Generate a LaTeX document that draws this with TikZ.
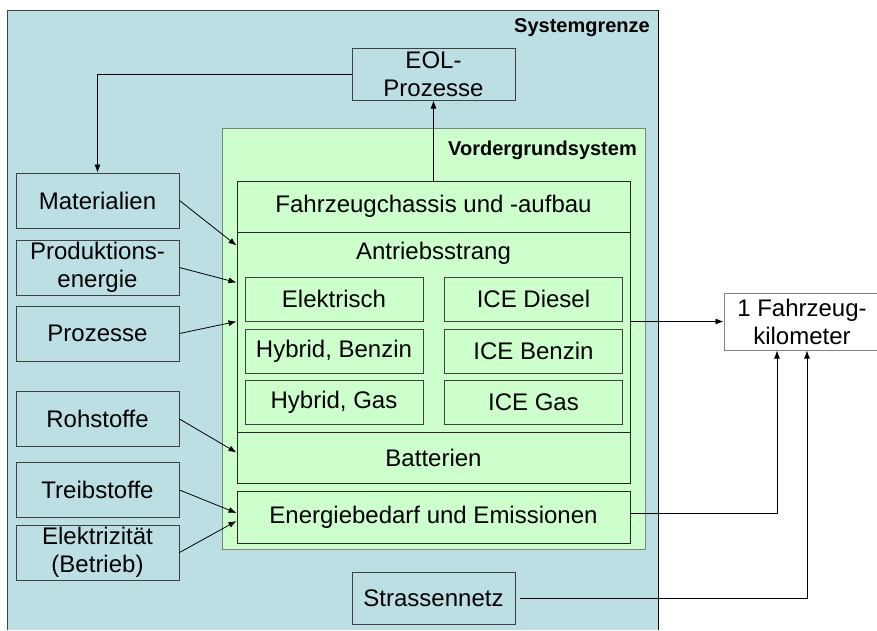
\documentclass[tikz,border=0pt]{standalone}
\usepackage{fontspec}
\setmainfont{Liberation Sans}
\usetikzlibrary{arrows.meta,positioning}

\definecolor{sysblue}{HTML}{BBDFE2}
\definecolor{fggreen}{HTML}{CCFFCC}
\definecolor{boxgray}{HTML}{404040}

\tikzset{
  box/.style={draw=boxgray, line width=1pt, minimum width=163pt, minimum height=55pt,
    inner sep=0pt, align=center, font=\fontsize{24}{28}\selectfont},
  block/.style={draw=black!85, line width=1pt, minimum width=393pt, inner sep=0pt,
    align=center, font=\fontsize{24}{28}\selectfont},
  subbox/.style={draw=boxgray, line width=1pt, minimum width=178pt, minimum height=44pt,
    inner sep=0pt, font=\fontsize{24}{28}\selectfont},
  flow/.style={-{Latex[length=8pt,width=6pt]}, line width=0.8pt, black},
  title/.style={font=\bfseries\fontsize{20}{24}\selectfont, anchor=east, inner sep=0pt}
}

\begin{document}
\begin{tikzpicture}[x=1pt,y=-1pt]
\useasboundingbox (0,0) rectangle (877,630);

% system boundary
\fill[sysblue] (7,10) rectangle (658,630);
\draw[boxgray, line width=1pt] (7,630) -- (7,10) -- (658,10);
\draw[black, line width=1pt] (658,10) -- (658,630);
\node[title] (sysl) at (650,28) {Systemgrenze};

% foreground system
\node[draw=gray, fill=fggreen, line width=1pt, minimum width=423pt, minimum height=421pt,
  inner sep=0pt] (vg) at (433.5,338.5) {};
\node[title] (vgl) at (637,150) {Vordergrundsystem};

% blocks inside
\node[block, minimum height=51pt] (chassis) at (433.5,206.5) {Fahrzeugchassis und -aufbau};
\node[block, minimum height=200pt] (ant) at (433.5,332) {};
\node[below=10pt of ant.north, inner sep=0pt, font=\fontsize{24}{28}\selectfont] (antl) {Antriebsstrang};
\node[block, minimum height=51pt] (bat) at (433.5,457.5) {Batterien};
\node[block, minimum height=52pt] (energie) at (433.5,517) {Energiebedarf und Emissionen};

% drive types
\node[subbox] (elek) at (334,299) {Elektrisch};
\node[subbox] (diesel) at (533.5,299) {ICE Diesel};
\node[subbox] (hybb) at (334,351) {Hybrid, Benzin};
\node[subbox] (iceb) at (533.5,351) {ICE Benzin};
\node[subbox] (hybg) at (334,402.5) {Hybrid, Gas};
\node[subbox] (iceg) at (533.5,402.5) {ICE Gas};

% inputs left
\node[box] (mat) at (97.5,200.5) {Materialien};
\node[box] (prod) at (97.5,267.5) {Produktions-\\energie};
\node[box] (proz) at (97.5,333.5) {Prozesse};
\node[box] (roh) at (97.5,419) {Rohstoffe};
\node[box] (treib) at (97.5,490) {Treibstoffe};
\node[box] (strom) at (97.5,552.5) {Elektrizität\\(Betrieb)};

% top and bottom boxes
\node[box, minimum height=52pt] (eol) at (433.5,74) {EOL-\\Prozesse};
\node[box, minimum height=52pt] (str) at (433.5,598) {Strassennetz};

% functional unit
\node[draw=gray, fill=white, line width=1pt, minimum width=156pt, minimum height=57pt,
  inner sep=0pt, align=center, font=\fontsize{24}{28}\selectfont] (km) at (802,321.5)
  {1 Fahrzeug-\\kilometer};

% arrows into foreground system
\draw[flow] (mat.east) -- ([yshift=-14pt]ant.north west);
\draw[flow] (prod.east) -- ([yshift=-51pt]ant.north west);
\draw[flow] (proz.east) -- ([yshift=-90pt]ant.north west);
\draw[flow] (roh.east) -- ([yshift=-21pt]bat.north west);
\draw[flow] (treib.east) -- ([yshift=4pt]energie.west);
\draw[flow] (strom.east) -- ([yshift=-4pt]energie.west);

% end of life loop
\draw[flow] (chassis.north) -- (eol.south);
\draw[flow] (eol.west) -| (mat.north);

% arrows to functional unit
\draw[flow] (km.west -| ant.east) -- (km.west);
\draw[flow] ([yshift=4pt]energie.east) -| ([xshift=-25pt]km.south);
\draw[flow] ([xshift=4pt]str.east) -| ([xshift=5pt]km.south);

\end{tikzpicture}
\end{document}
